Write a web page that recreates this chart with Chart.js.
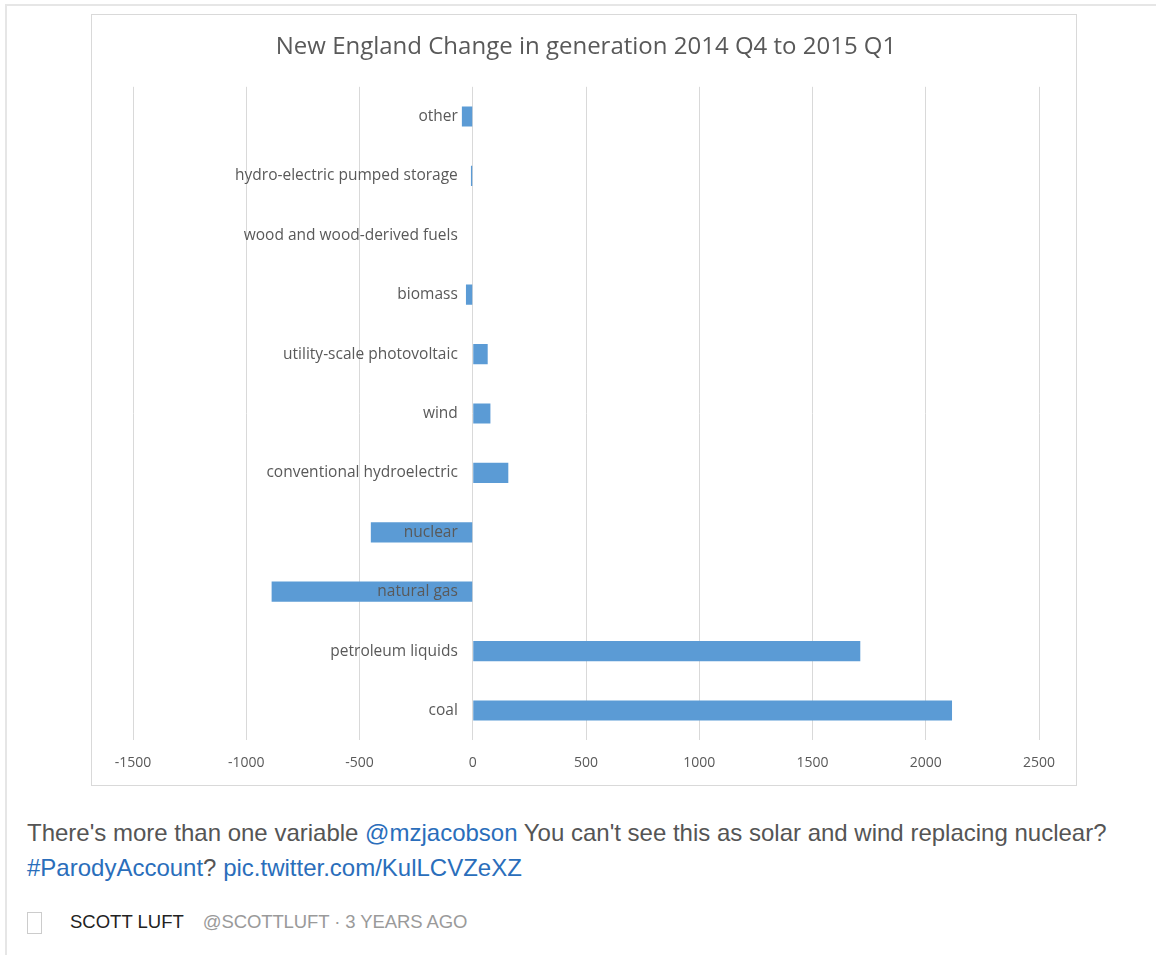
<!DOCTYPE html>
<html>
<head>
<meta charset="utf-8">
<script src="https://cdn.jsdelivr.net/npm/chart.js@4.4.1/dist/chart.umd.min.js"></script>
<style>
  html, body { margin: 0; padding: 0; background: #fff; }
  body { width: 1156px; height: 955px; position: relative; overflow: hidden; font-family: "Liberation Sans", Arial, sans-serif; }
  #frame { position: absolute; left: 5px; top: 4px; right: -10px; bottom: -10px; border-top: 2px solid #e6e6e6; border-left: 2px solid #e6e6e6; }
  #chartBox { position: absolute; left: 91px; top: 14px; width: 984px; height: 770px; border: 1px solid #d9d9d9; }
  #chartBox canvas { display: block; }
  #tweet { position: absolute; left: 27px; top: 815px; font-size: 24px; line-height: 35px; color: #555; white-space: nowrap; }
  #tweet a { color: #2a6ebb; text-decoration: none; }
  #meta { position: absolute; left: 70px; top: 911px; font-size: 18.5px; color: #222; white-space: nowrap; }
  #meta span { color: #9a9a9a; margin-left: 19px; letter-spacing: -0.1px; }
  #box { position: absolute; left: 27px; top: 912px; width: 13px; height: 20px; border: 1px solid #ccc; }
</style>
</head>
<body>
<div id="frame"></div>
<div id="chartBox"><canvas id="c" width="984" height="770"></canvas></div>
<div id="tweet">There's more than one variable <a>@mzjacobson</a> You can't see this as solar and wind replacing nuclear?<br><a>#ParodyAccount</a>? <a>pic.twitter.com/KulLCVZeXZ</a></div>
<div id="box"></div>
<div id="meta">SCOTT LUFT<span>@SCOTTLUFT · 3 YEARS AGO</span></div>
<script>
const chartTitle = "New England Change in generation 2014 Q4 to 2015 Q1";
const categories = [
  "other",
  "hydro-electric pumped storage",
  "wood and wood-derived fuels",
  "biomass",
  "utility-scale photovoltaic",
  "wind",
  "conventional hydroelectric",
  "nuclear",
  "natural gas",
  "petroleum liquids",
  "coal"
];
const changeValues = [-48, -8, 0, -30, 66, 78, 157, -450, -888, 1711, 2116];
const xTicks = [-1500, -1000, -500, 0, 500, 1000, 1500, 2000, 2500];

const fontFamily = "'Open Sans', 'Noto Sans', sans-serif";
new Chart(document.getElementById('c'), {
  type: 'bar',
  data: {
    labels: categories,
    datasets: [{
      data: changeValues,
      backgroundColor: '#5b9bd5',
      borderWidth: 0,
      categoryPercentage: 1,
      barPercentage: 0.34
    }]
  },
  options: {
    indexAxis: 'y',
    responsive: false,
    animation: false,
    devicePixelRatio: 1,
    layout: { padding: { left: 41, right: 37, top: 0, bottom: 0 } },
    plugins: {
      legend: { display: false },
      tooltip: { enabled: false },
      title: {
        display: true,
        text: chartTitle,
        color: '#595959',
        font: { family: fontFamily, size: 24, weight: 'normal' },
        padding: { top: 18, bottom: 25 }
      }
    },
    scales: {
      x: {
        min: xTicks[0],
        max: xTicks[xTicks.length - 1],
        afterBuildTicks: (scale) => { scale.ticks = xTicks.map(v => ({ value: v })); },
        grid: { color: '#d9d9d9', lineWidth: 1, drawTicks: false },
        border: { display: false },
        ticks: { color: '#595959', font: { family: fontFamily, size: 14 }, padding: 14, callback: (v) => String(v) }
      },
      y: {
        position: { x: -66 },
        grid: { display: false, drawTicks: false },
        border: { display: false },
        ticks: { color: '#595959', font: { family: fontFamily, size: 15.5 }, padding: 0, z: 1, autoSkip: false }
      }
    }
  }
});
</script>
</body>
</html>
